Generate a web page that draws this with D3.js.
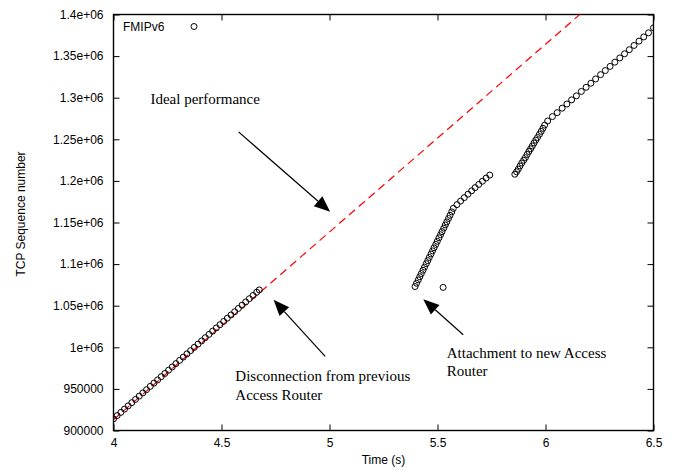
<!DOCTYPE html>
<html>
<head>
<meta charset="utf-8">
<script src="https://cdn.jsdelivr.net/npm/d3@7"></script>
<style>
  html, body { margin: 0; padding: 0; background: #fff; }
  svg { display: block; }
  .tick text { font-family: "Liberation Sans", Arial, sans-serif; font-size: 12px; fill: #000; }
  .tick line { stroke: #000; }
</style>
</head>
<body>
<svg id="chart" width="678" height="470"></svg>
<script>
// ---- data ----
const seriesName = "FMIPv6";
const xTicks = [4, 4.5, 5, 5.5, 6, 6.5];
const xTickLabels = ["4", "4.5", "5", "5.5", "6", "6.5"];
const yTicks = [900000, 950000, 1000000, 1050000, 1100000, 1150000, 1200000, 1250000, 1300000, 1350000, 1400000];
const yTickLabels = ["900000", "950000", "1e+06", "1.05e+06", "1.1e+06", "1.15e+06", "1.2e+06", "1.25e+06", "1.3e+06", "1.35e+06", "1.4e+06"];

// measured TCP sequence numbers: time (s)
const times = [
  4.000, 4.017, 4.034, 4.051, 4.068, 4.085, 4.102, 4.119, 4.136, 4.153,
  4.170, 4.187, 4.204, 4.221, 4.238, 4.255, 4.272, 4.289, 4.306, 4.323,
  4.340, 4.357, 4.374, 4.391, 4.408, 4.425, 4.442, 4.459, 4.476, 4.493,
  4.510, 4.527, 4.544, 4.561, 4.578, 4.595, 4.612, 4.629, 4.646, 4.663, 4.675,
  5.396, 5.403, 5.411, 5.418, 5.425, 5.433, 5.440, 5.448, 5.455, 5.462,
  5.470, 5.477, 5.484, 5.492, 5.499, 5.507, 5.514, 5.521, 5.529, 5.536,
  5.543, 5.551, 5.558, 5.566, 5.573,
  5.590, 5.607, 5.624, 5.641, 5.658, 5.674, 5.691, 5.708, 5.725, 5.742,
  5.526,
  5.858, 5.866, 5.874, 5.882, 5.890, 5.899, 5.907, 5.915, 5.923, 5.931,
  5.939, 5.947, 5.955, 5.963, 5.972, 5.980, 5.988, 5.996,
  6.010, 6.032, 6.054, 6.077, 6.099, 6.121, 6.143, 6.166, 6.188, 6.210,
  6.232, 6.255, 6.277, 6.299, 6.321, 6.344, 6.366, 6.388, 6.410, 6.433,
  6.455, 6.477, 6.500
];
// measured TCP sequence numbers: value
const seqNumbers = [
  914000, 917900, 921800, 925700, 929600, 933500, 937400, 941300, 945200, 949100,
  953000, 956900, 960800, 964700, 968600, 972500, 976400, 980400, 984300, 988200,
  992100, 996000, 999900, 1003800, 1007700, 1011600, 1015500, 1019400, 1023300, 1027200,
  1031100, 1035000, 1038900, 1042800, 1046700, 1050600, 1054500, 1058400, 1062300, 1066200, 1069000,
  1073000, 1077000, 1081000, 1084800, 1088600, 1092600, 1096400, 1100500, 1104200, 1108000,
  1112100, 1115900, 1119600, 1123700, 1127400, 1131600, 1135300, 1139000, 1143200, 1147000,
  1150700, 1154800, 1158600, 1162800, 1167000,
  1171500, 1175800, 1179900, 1184000, 1188100, 1191900, 1195800, 1199600, 1203400, 1207000,
  1072000,
  1208000, 1211000, 1214200, 1217900, 1221500, 1224800, 1228000, 1231800, 1235400, 1238600,
  1242000, 1245600, 1249000, 1252200, 1256000, 1259600, 1263200, 1267000,
  1272000, 1277300, 1282000, 1287400, 1292400, 1297400, 1302200, 1307500, 1312500, 1317400,
  1322500, 1327700, 1332600, 1337600, 1342700, 1347800, 1352800, 1357700, 1362800, 1368000,
  1373000, 1378000, 1384000
];

// ideal performance line (end points)
const idealTimes = [4.0, 6.5];
const idealValues = [913000, 1477000];

// annotations (data coordinates)
const annoTexts = [
  { lines: ["Ideal performance"], t: 4.171, v: 1292100 },
  { lines: ["Disconnection from previous", "Access Router"], t: 4.564, v: 959100 },
  { lines: ["Attachment to new Access", "Router"], t: 5.543, v: 987500 }
];
const arrows = [
  { t0: 4.579, v0: 1258900, t1: 5.003, v1: 1162900 },
  { t0: 4.980, v0: 989100, t1: 4.741, v1: 1057100 },
  { t0: 5.619, v0: 1015100, t1: 5.434, v1: 1057900 }
];

// ---- drawing ----
const svg = d3.select("#chart");
const L = 113.5, R = 653.5, T = 14.5, B = 430.5;
const x = d3.scaleLinear().domain([4, 6.5]).range([L, R]);
const y = d3.scaleLinear().domain([900000, 1400000]).range([B, T]);

svg.append("defs").append("clipPath").attr("id", "plotclip")
  .append("rect").attr("x", L).attr("y", T).attr("width", R - L).attr("height", B - T);

// axes
const xLab = new Map(xTicks.map((d, i) => [d, xTickLabels[i]]));
const yLab = new Map(yTicks.map((d, i) => [d, yTickLabels[i]]));

svg.append("g").attr("transform", `translate(0,${B})`)
  .call(d3.axisBottom(x).tickValues(xTicks).tickFormat(d => xLab.get(d)).tickSizeInner(-6).tickSizeOuter(0).tickPadding(8))
  .call(g => g.select(".domain").remove());
svg.append("g").attr("transform", `translate(0,${T})`)
  .call(d3.axisTop(x).tickValues(xTicks).tickFormat("").tickSizeInner(-6).tickSizeOuter(0))
  .call(g => g.select(".domain").remove());
svg.append("g").attr("transform", `translate(${L},0)`)
  .call(d3.axisLeft(y).tickValues(yTicks).tickFormat(d => yLab.get(d)).tickSizeInner(-6).tickSizeOuter(0).tickPadding(10))
  .call(g => g.select(".domain").remove());
svg.append("g").attr("transform", `translate(${R},0)`)
  .call(d3.axisRight(y).tickValues(yTicks).tickFormat("").tickSizeInner(-6).tickSizeOuter(0))
  .call(g => g.select(".domain").remove());

// frame
svg.append("rect").attr("x", L).attr("y", T).attr("width", R - L).attr("height", B - T)
  .attr("fill", "none").attr("stroke", "#000").attr("stroke-width", 1.4);

// axis titles
svg.append("text").attr("x", (L + R) / 2).attr("y", 464).attr("text-anchor", "middle")
  .attr("font-family", "Liberation Sans, Arial, sans-serif").attr("font-size", 12).text("Time (s)");
svg.append("text").attr("transform", "translate(25,214) rotate(-90)").attr("text-anchor", "middle")
  .attr("font-family", "Liberation Sans, Arial, sans-serif").attr("font-size", 12).text("TCP Sequence number");

// ideal line
const plot = svg.append("g").attr("clip-path", "url(#plotclip)");
plot.append("path")
  .datum(idealTimes.map((t, i) => [t, idealValues[i]]))
  .attr("d", d3.line().x(d => x(d[0])).y(d => y(d[1])))
  .attr("fill", "none").attr("stroke", "#ff0000").attr("stroke-width", 1.2)
  .attr("stroke-dasharray", "8,5");

// points
plot.selectAll("circle.pt").data(times.map((t, i) => [t, seqNumbers[i]]))
  .enter().append("circle").attr("class", "pt")
  .attr("cx", d => x(d[0])).attr("cy", d => y(d[1])).attr("r", 3)
  .attr("fill", "none").attr("stroke", "#000").attr("stroke-width", 1);

// legend
svg.append("text").attr("x", 123).attr("y", 31)
  .attr("font-family", "Liberation Sans, Arial, sans-serif").attr("font-size", 12).text(seriesName);
svg.append("circle").attr("cx", 194).attr("cy", 26.5).attr("r", 3)
  .attr("fill", "none").attr("stroke", "#000").attr("stroke-width", 1);

// annotations
annoTexts.forEach(a => {
  const tx = svg.append("text").attr("x", x(a.t)).attr("y", y(a.v))
    .attr("font-family", "Liberation Serif, Times New Roman, serif").attr("font-size", 15).attr("fill", "#000");
  a.lines.forEach((ln, i) => tx.append("tspan").attr("x", x(a.t)).attr("dy", i === 0 ? 0 : 18.5).text(ln));
});

arrows.forEach(a => {
  const x0 = x(a.t0), y0 = y(a.v0), x1 = x(a.t1), y1 = y(a.v1);
  const ang = Math.atan2(y1 - y0, x1 - x0);
  const hl = 16, hw = 6.5;
  const bx = x1 - hl * Math.cos(ang), by = y1 - hl * Math.sin(ang);
  svg.append("line").attr("x1", x0).attr("y1", y0).attr("x2", bx).attr("y2", by)
    .attr("stroke", "#000").attr("stroke-width", 1.2);
  const px = -Math.sin(ang), py = Math.cos(ang);
  svg.append("path")
    .attr("d", `M${x1},${y1}L${bx + hw * px},${by + hw * py}L${bx - hw * px},${by - hw * py}Z`)
    .attr("fill", "#000");
});
</script>
</body>
</html>
